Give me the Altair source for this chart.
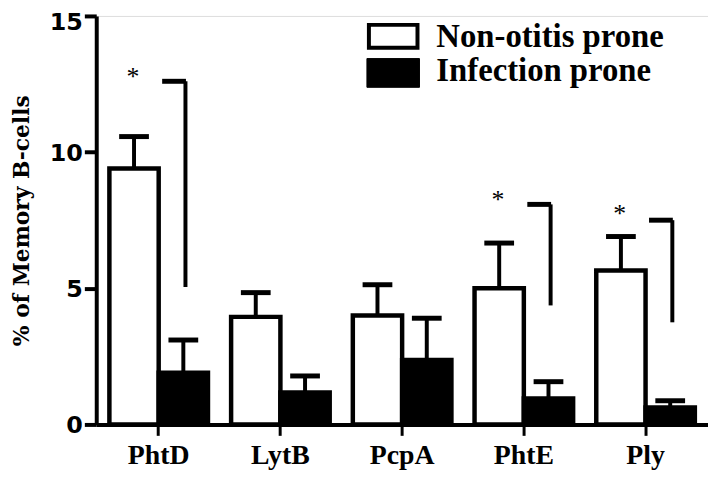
import altair as alt
import pandas as pd

categories = ["PhtD", "LytB", "PcpA", "PhtE", "Ply"]
groups = ["Non-otitis prone", "Infection prone"]
non_otitis_mean = [9.4, 3.95, 4.0, 5.0, 5.65]
non_otitis_upper = [10.57, 4.84, 5.13, 6.66, 6.9]
infection_mean = [1.9, 1.17, 2.37, 0.95, 0.62]
infection_upper = [3.1, 1.78, 3.9, 1.57, 0.87]

sig_categories = ["PhtD", "PhtE", "Ply"]
sig_bracket_top = [12.6, 8.08, 7.5]
sig_bracket_bottom = [5.05, 4.37, 3.75]
sig_star_y = [12.9, 8.4, 7.86]

rows = []
for i, c in enumerate(categories):
    rows.append({"category": c, "group": groups[0], "mean": non_otitis_mean[i], "upper": non_otitis_upper[i]})
    rows.append({"category": c, "group": groups[1], "mean": infection_mean[i], "upper": infection_upper[i]})
df = pd.DataFrame(rows)
sig = pd.DataFrame({"category": sig_categories, "top": sig_bracket_top,
                    "bottom": sig_bracket_bottom, "star": sig_star_y})

SERIF = "Liberation Serif"

xscale = alt.Scale(domain=categories, paddingInner=0.19, paddingOuter=0.108)
xaxis = alt.Axis(labelAngle=0, title=None, tickSize=11, tickWidth=3, domainWidth=4,
                 labelFont=SERIF, labelFontWeight="bold", labelFontSize=28,
                 labelPadding=6, labelColor="black", tickColor="black", domainColor="black")
yscale = alt.Scale(domain=[0, 15], nice=False, zero=True)
yaxis = alt.Axis(values=[0, 5, 10, 15], title="% of Memory B-cells", grid=False,
                 tickSize=12, tickWidth=4, domainWidth=4, labelFont="DejaVu Sans",
                 labelFontWeight="bold", labelFontSize=24, labelPadding=2, labelColor="black",
                 labelOffset={"condition": {"test": "datum.value == 15", "value": 6.5}, "value": 1},
                 tickColor="black", domainColor="black", titleFont="DejaVu Serif", titleFontWeight="bold",
                 titleFontSize=22, titleColor="black", titleX=-68, titleY=206, titleAngle=270,
                 titleBaseline="alphabetic", titleAlign="center")


def xenc():
    return alt.X("category:N", scale=xscale, axis=xaxis, sort=categories)


def yenc(field):
    return alt.Y(f"{field}:Q", scale=yscale, axis=yaxis)


xoff = alt.XOffset("group:N", sort=groups, scale=alt.Scale(domain=groups, paddingInner=0, paddingOuter=0))

bars = alt.Chart(df).mark_bar(stroke="black", strokeWidth=4.5).encode(
    x=xenc(), xOffset=xoff, y=yenc("mean"),
    fill=alt.Fill("group:N", scale=alt.Scale(domain=groups, range=["white", "black"]), legend=None),
)
err = alt.Chart(df).mark_rule(color="black", strokeWidth=4).encode(
    x=xenc(), xOffset=xoff, y=yenc("mean"), y2="upper:Q")
caps = alt.Chart(df).mark_tick(color="black", size=30, thickness=5, opacity=1).encode(
    x=xenc(), xOffset=xoff, y=yenc("upper"))

br_h = alt.Chart(sig).mark_tick(color="black", size=24, thickness=5, opacity=1, xOffset=15.5).encode(
    x=xenc(), y=yenc("top"))
br_v = alt.Chart(sig).mark_rule(color="black", strokeWidth=4, xOffset=27).encode(
    x=xenc(), y=yenc("top"), y2="bottom:Q")
stars = alt.Chart(sig).mark_text(text="*", font=SERIF, fontSize=26, xOffset=-26, dy=4,
                                 baseline="middle", color="black").encode(
    x=xenc(), y=yenc("star"))

leg1 = pd.DataFrame({"label": [groups[0]]})
leg2 = pd.DataFrame({"label": [groups[1]]})
lr1 = alt.Chart(leg1).mark_rect(fill="white", stroke="black", strokeWidth=4).encode(
    x=alt.value(275), x2=alt.value(324), y=alt.value(9), y2=alt.value(32))
lr2 = alt.Chart(leg2).mark_rect(fill="black", stroke="black", strokeWidth=1).encode(
    x=alt.value(273), x2=alt.value(326), y=alt.value(43), y2=alt.value(72))
lt1 = alt.Chart(leg1).mark_text(align="left", baseline="alphabetic", font=SERIF, fontWeight="bold",
                                fontSize=33, color="black").encode(
    x=alt.value(343), y=alt.value(31), text="label:N")
lt2 = alt.Chart(leg2).mark_text(align="left", baseline="alphabetic", font=SERIF, fontWeight="bold",
                                fontSize=33, color="black").encode(
    x=alt.value(343), y=alt.value(66), text="label:N")

chart = alt.layer(bars, err, caps, br_h, br_v, stars, lr1, lr2, lt1, lt2).properties(
    width=617, height=412,
    autosize=alt.AutoSizeParams(type="none"),
    padding={"left": 89, "top": 6, "right": 0, "bottom": 50},
).configure_view(stroke=None).configure(background="white")

chart.save("out.html", embed_options={"renderer": "svg", "actions": False})
